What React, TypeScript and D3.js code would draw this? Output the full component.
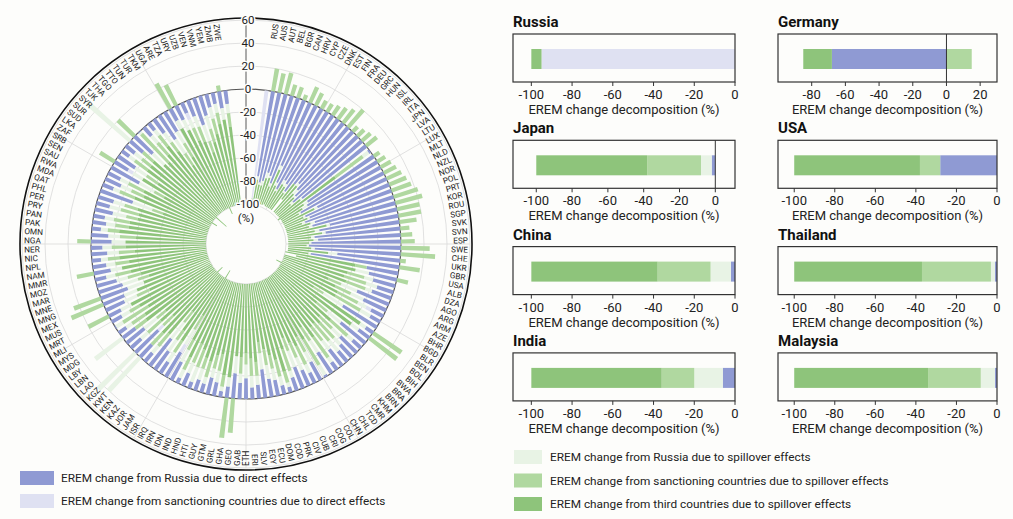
import React from "react";
import * as d3 from "d3";

const countries = ["RUS","AUS","AUT","BEL","BGR","CAN","HRV","CYP","CZE","DNK","EST","FIN","FRA","DEU","GRC","HUN","ISL","IRL","ITA","JPN","LVA","LTU","LUX","MLT","NLD","NZL","NOR","POL","PRT","KOR","ROU","SGP","SVK","SVN","ESP","SWE","CHE","UKR","GBR","USA","ALB","DZA","AGO","ARG","ARM","AZE","BHR","BGD","BLR","BEN","BOL","BIH","BWA","BRA","BRN","KHM","CMR","TCD","CHL","CHN","COL","COG","CRI","CUB","CIV","PRK","COD","DOM","ECU","EGY","SLV","ERI","ETH","GAB","GEO","GHA","GRL","GTM","GUY","HTI","HND","IND","IDN","IRN","IRQ","ISR","JAM","JOR","KAZ","KEN","KWT","KGZ","LAO","LBN","LBY","MDG","MYS","MLI","MRT","MUS","MEX","MNG","MNE","MAR","MOZ","MMR","NAM","NPL","NIC","NER","NGA","OMN","PAK","PAN","PRY","PER","PHL","QAT","MDA","RWA","SAU","SEN","SRB","ZAF","LKA","SUD","SUR","SYR","TJK","THA","TGO","TTO","TUN","TUR","TKM","UGA","ARE","TZA","URY","UZB","VEN","VNM","YEM","ZMB","ZWE"];

const dirRus = [
0,-75,-80,-78,-70,-72,-78,-60,-75,-80,
-70,-72,-78,-68,-65,-70,-75,-80,-72,-2,
-70,-72,-80,-65,-78,-75,-80,-72,-75,-60,
-70,-65,-75,-72,-78,-80,-75,-55,-78,-28,
-25,-20,-15,-18,-30,-22,-12,-10,-35,-8,
-12,-28,-10,-20,-15,-12,-18,-8,-22,-2,
-18,-10,-15,-20,-12,-5,-8,-14,-16,-25,
-12,-10,-18,-14,-22,-10,-5,-12,-15,-8,
-10,-6,-12,-5,-18,-25,-12,-20,-30,-10,
-15,-28,-12,-20,-14,-8,-1,-10,-12,-18,
-20,-25,-22,-18,-10,-15,-12,-8,-14,-10,
-18,-15,-8,-12,-10,-16,-12,-14,-30,-10,
-15,-12,-28,-14,-18,-8,-10,-15,-22,-1,
-10,-8,-15,-25,-20,-12,-14,-10,-15,-25,
-18,-12,-10,-15,-12];

const dirSanc = [
-95,0,0,0,0,0,0,0,0,0,
0,0,0,0,0,0,0,0,0,0,
0,0,0,0,0,0,0,0,0,0,
0,0,0,0,0,0,0,0,0,0,
0,0,0,0,0,0,-5,0,0,0,
0,0,0,0,0,0,0,0,0,0,
0,0,0,0,0,0,0,0,0,0,
0,0,0,0,0,0,0,0,0,0,
0,0,0,0,0,-8,0,0,0,0,
0,-6,0,0,0,0,0,0,0,0,
0,0,0,0,0,0,0,0,0,0,
0,0,0,0,0,0,0,0,0,0,
0,0,0,-5,0,0,0,0,0,0,
0,0,0,0,0,0,0,-6,0,0,
0,0,0,0,0];

const spRus = [
0,-3,-2,-4,-5,-2,-3,-4,-3,-2,
-4,-3,-2,0,-3,-5,-2,-3,-2,-6,
-4,-5,-2,-3,-2,-2,-3,-4,-3,-3,
-4,-3,-3,-4,-2,-2,-3,-8,-2,0,
-12,-8,-10,-6,-15,-12,-8,-10,-20,-6,
-8,-15,-6,-10,-8,-12,-10,-5,-12,-10,
-10,-8,-12,-15,-6,-4,-8,-10,-12,-14,
-8,-10,-12,-8,-15,-8,-4,-10,-8,-6,
-10,-14,-10,-8,-12,-15,-10,-12,-18,-8,
40,45,-8,-14,30,-6,-7,-8,-10,-12,
-12,-15,-14,-10,-8,-10,-8,-6,-10,-8,
-12,-10,-6,-8,-8,-12,-10,-10,-18,-6,
-10,-8,-15,-10,-12,-6,-8,50,-14,-2,
-8,-6,-10,-15,-12,-8,-10,-8,-10,-15,
-12,-10,-8,-10,-8];

const spSanc = [
0,20,17,19,10,10,5,15,12,8,
8,10,12,15,20,6,8,10,12,-30,
6,8,10,12,14,16,18,22,24,20,
20,15,8,10,12,25,30,5,18,-10,
10,-15,-20,-18,-12,-15,-20,-25,-10,30,
30,-12,-20,-15,-18,-20,-15,-22,-14,-26,
-15,-18,-14,-12,-20,-10,-15,-12,-14,-10,
-12,-15,-10,-14,30,35,-10,-15,-12,-14,
-10,-16,-18,-12,-10,-14,-12,-10,-12,-14,
-14,-12,-15,-10,-12,-14,-26,-10,20,-12,
30,25,-10,-12,-14,15,-12,-10,-14,-12,
12,-14,-10,-12,-14,-10,-16,-12,-10,-14,
-12,-15,-10,15,-12,-14,-10,-12,20,-34,
-14,-12,-10,-12,-14,25,20,-12,-14,-10,
-12,-14,-10,5,-12];

const third = [
-5,-20,-15,-16,-22,-24,-17,-33,-20,-16,
-24,-23,-18,-17,-30,-23,-21,-15,-24,-62,
-24,-21,-16,-30,-18,-21,-15,-22,-20,-35,
-24,-30,-20,-22,-18,-16,-20,-35,-18,-62,
-53,-57,-55,-58,-43,-51,-60,-55,-35,-86,
-80,-45,-64,-55,-59,-56,-57,-65,-52,-62,
-57,-64,-59,-53,-62,-81,-69,-64,-58,-51,
-68,-65,-60,-64,-63,-82,-81,-63,-65,-72,
-70,-64,-60,-75,-60,-46,-66,-58,-40,-68,
-71,-60,-65,-56,-74,-72,-66,-72,-78,-58,
-68,-60,-54,-60,-68,-75,-68,-76,-62,-70,
-70,-61,-76,-68,-68,-62,-62,-64,-42,-70,
-63,-65,-47,-76,-58,-72,-72,-85,-64,-63,
-68,-74,-65,-48,-54,-80,-76,-70,-61,-50,
-58,-64,-72,-75,-68];

const radialTicks = [-100, -80, -60, -40, -20, 0, 20, 40, 60];

const panelNames = ["Russia", "Germany", "Japan", "USA", "China", "Thailand", "India", "Malaysia"];
const panelCodes = ["RUS", "DEU", "JPN", "USA", "CHN", "THA", "IND", "MYS"];
const panelDomains: [number, number][] = [[-109, 0], [-100, 30], [-113, 11], [-108, 0], [-109, 0], [-108, 0], [-109, 0], [-108, 0]];
const panelTicks = [
  [-100, -80, -60, -40, -20, 0],
  [-80, -60, -40, -20, 0, 20],
  [-100, -80, -60, -40, -20, 0],
  [-100, -80, -60, -40, -20, 0],
  [-100, -80, -60, -40, -20, 0],
  [-100, -80, -60, -40, -20, 0],
  [-100, -80, -60, -40, -20, 0],
  [-100, -80, -60, -40, -20, 0],
];

const keys = ["dirRus", "dirSanc", "spRus", "spSanc", "third"];
const colors: Record<string, string> = {
  dirRus: "#8f9ad3",
  dirSanc: "#dfe1f2",
  spRus: "#e8f3e5",
  spSanc: "#b0d8a0",
  third: "#8ec47b",
};
const legendLeft = [
  ["dirRus", "EREM change from Russia due to direct effects"],
  ["dirSanc", "EREM change from sanctioning countries due to direct effects"],
];
const legendRight = [
  ["spRus", "EREM change from Russia due to spillover effects"],
  ["spSanc", "EREM change from sanctioning countries due to spillover effects"],
  ["third", "EREM change from third countries due to spillover effects"],
];

const FONT = "Roboto, 'Noto Sans', sans-serif";

export default function App() {
  const rows = countries.map((c, i) => ({
    c,
    dirRus: dirRus[i],
    dirSanc: dirSanc[i],
    spRus: spRus[i],
    spSanc: spSanc[i],
    third: third[i],
  }));
  const stack = d3.stack<any>().keys(keys).offset(d3.stackOffsetDiverging);
  const series = stack(rows);

  const cx = 246, cy = 244;
  const r = d3.scaleLinear().domain([-100, 60]).range([40, 224]);
  const ang = d3
    .scaleBand<string>()
    .domain(countries)
    .range([(6 * Math.PI) / 180, (354 * Math.PI) / 180])
    .padding(0.38);
  const arc = d3.arc<any>();

  const spokes = d3.range(0, 360, 30);

  return (
    <svg width={1013} height={519} style={{ position: "absolute", left: 0, top: 0, background: "#fdfdfb" }} fontFamily={FONT}>
      <g transform={`translate(${cx},${cy})`}>
        {radialTicks.map((t) => (
          <circle key={t} r={r(t)} fill="none" stroke={t === 0 ? "#555" : "#d9d9d9"} strokeWidth={t === 0 ? 1.2 : 0.8} />
        ))}
        {spokes.map((a) => {
          const rad = (a * Math.PI) / 180;
          return (
            <line key={a} x1={Math.sin(rad) * r(-100)} y1={-Math.cos(rad) * r(-100)} x2={Math.sin(rad) * 224} y2={-Math.cos(rad) * 224} stroke="#d9d9d9" strokeWidth={0.8} />
          );
        })}
        {series.map((s) => (
          <g key={s.key} fill={colors[s.key]}>
            {s.map((d: any, i: number) => {
              const lo = Math.min(d[0], d[1]);
              const hi = Math.max(d[0], d[1]);
              if (hi - lo < 0.01) return null;
              const a0 = ang(countries[i])!;
              return (
                <path
                  key={i}
                  d={arc({ innerRadius: r(lo), outerRadius: r(hi), startAngle: a0, endAngle: a0 + ang.bandwidth() }) || ""}
                />
              );
            })}
          </g>
        ))}
        <circle r={226} fill="none" stroke="#111" strokeWidth={1.6} />
        {countries.map((c) => {
          const a = ang(c)! + ang.bandwidth() / 2;
          const deg = (a * 180) / Math.PI;
          const right = a < Math.PI;
          return (
            <text
              key={c}
              transform={`rotate(${deg - 90}) translate(222,0) ${right ? "" : "rotate(180)"}`}
              textAnchor={right ? "end" : "start"}
              dominantBaseline="central"
              fontSize={8.2}
              fill="#222"
            >
              {c}
            </text>
          );
        })}
        <line x1={0} y1={-r(-100)} x2={0} y2={-226} stroke="#666" strokeWidth={1} />
        {radialTicks.map((t) => (
          <text key={t} x={2} y={-r(t)} textAnchor="middle" dominantBaseline="central" fontSize={11.5} fill="#222" stroke="#fdfdfb" strokeWidth={3} paintOrder="stroke">
            {t}
          </text>
        ))}
        <text x={0} y={-r(-100) + 18} textAnchor="middle" fontSize={11.5} fill="#222">(%)</text>
      </g>

      {panelNames.map((name, pi) => {
        const col = pi % 2;
        const row = Math.floor(pi / 2);
        const x0 = col === 0 ? 513 : 778;
        const x1 = col === 0 ? 735 : 997;
        const top = 34 + row * 106.3;
        const h = 48;
        const x = d3.scaleLinear().domain(panelDomains[pi]).range([x0, x1]);
        const idx = countries.indexOf(panelCodes[pi]);
        const ps = stack([rows[idx]]);
        return (
          <g key={name}>
            <text x={x0} y={top - 7} fontSize={15} fontWeight="bold" fill="#111">{name}</text>
            {ps.map((s) => {
              const d: any = s[0];
              const lo = Math.min(d[0], d[1]);
              const hi = Math.max(d[0], d[1]);
              if (hi - lo < 0.01) return null;
              return <rect key={s.key} x={x(lo)} y={top + 15} width={x(hi) - x(lo)} height={20} fill={colors[s.key]} />;
            })}
            {panelDomains[pi][1] > 0 && <line x1={x(0)} x2={x(0)} y1={top} y2={top + h} stroke="#333" strokeWidth={1} />}
            <rect x={x0} y={top} width={x1 - x0} height={h} fill="none" stroke="#333" strokeWidth={1.2} />
            {panelTicks[pi].map((t) => (
              <g key={t}>
                <line x1={x(t)} x2={x(t)} y1={top + h} y2={top + h + 4} stroke="#333" />
                <text x={x(t)} y={top + h + 17} textAnchor="middle" fontSize={13} fill="#222">{t}</text>
              </g>
            ))}
            <text x={(x0 + x1) / 2} y={top + h + 32} textAnchor="middle" fontSize={13} fill="#222">EREM change decomposition (%)</text>
          </g>
        );
      })}

      {legendLeft.map(([k, label], i) => (
        <g key={k} transform={`translate(20,${471 + i * 23})`}>
          <rect width={34} height={14} fill={colors[k]} />
          <text x={41} y={7} dominantBaseline="central" fontSize={11.8} fill="#222">{label}</text>
        </g>
      ))}
      {legendRight.map(([k, label], i) => (
        <g key={k} transform={`translate(514,${450 + i * 23.5})`}>
          <rect width={28} height={14} fill={colors[k]} />
          <text x={36} y={7} dominantBaseline="central" fontSize={11.8} fill="#222">{label}</text>
        </g>
      ))}
    </svg>
  );
}
